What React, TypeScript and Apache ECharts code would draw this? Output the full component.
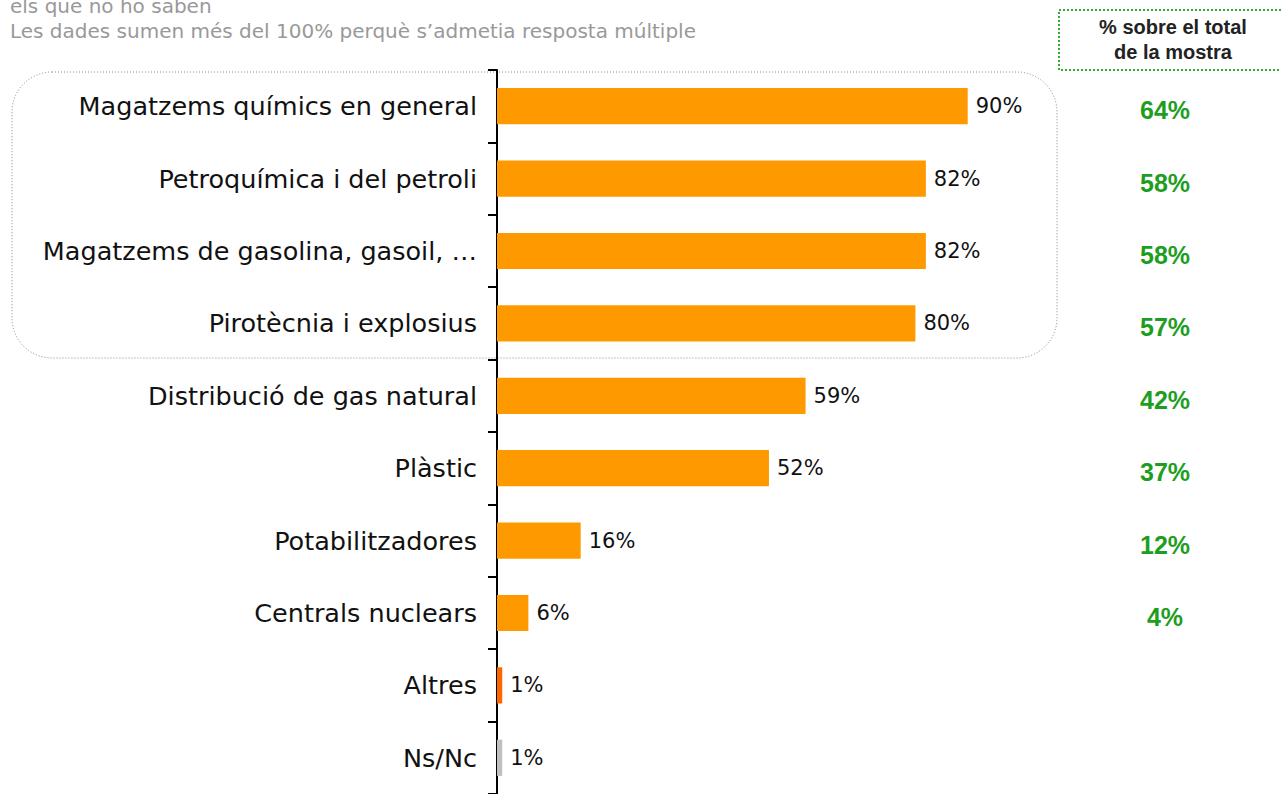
import React, { useEffect, useRef } from "react";
import * as echarts from "echarts";

const categories = [
  "Magatzems químics en general",
  "Petroquímica i del petroli",
  "Magatzems de gasolina, gasoil, …",
  "Pirotècnia i explosius",
  "Distribució de gas natural",
  "Plàstic",
  "Potabilitzadores",
  "Centrals nuclears",
  "Altres",
  "Ns/Nc",
];
const values = [90, 82, 82, 80, 59, 52, 16, 6, 1, 1];
const barColors = [
  "#FF9900", "#FF9900", "#FF9900", "#FF9900", "#FF9900",
  "#FF9900", "#FF9900", "#FF9900", "#FF6600", "#C0C0C0",
];
const totalLabels = ["64%", "58%", "58%", "57%", "42%", "37%", "12%", "4%", "", ""];
const noteLines = [
  "els que no ho saben",
  "Les dades sumen més del 100% perquè s’admetia resposta múltiple",
];
const headerLines = ["% sobre el total", "de la mostra"];

export default function App() {
  const ref = useRef<HTMLDivElement>(null);
  useEffect(() => {
    if (!ref.current) return;
    const chart = echarts.init(ref.current, undefined, { renderer: "svg" });
    const font = "'DejaVu Sans', sans-serif";
    const arial = "'Liberation Sans', Arial, sans-serif";
    chart.setOption({
      animation: false,
      backgroundColor: "#ffffff",
      grid: { left: 497, top: 70, right: 261, bottom: 0, containLabel: false },
      xAxis: {
        type: "value",
        min: 0,
        max: 100,
        show: false,
      },
      yAxis: [
        {
          type: "category",
          data: categories,
          inverse: true,
          axisLine: { show: true, lineStyle: { color: "#000", width: 2 } },
          axisTick: { show: true, length: 9, lineStyle: { color: "#000", width: 2 } },
          axisLabel: {
            margin: 20,
            fontFamily: font,
            fontSize: 25.5,
            color: "#111",
          },
          splitLine: { show: false },
        },
        {
          type: "category",
          data: totalLabels,
          inverse: true,
          position: "right",
          axisLine: { show: false },
          axisTick: { show: false },
          axisLabel: {
            margin: 145,
            align: "center",
            formatter: (v: string) => (v ? "{g|" + v + "}" : ""),
            rich: {
              g: {
                padding: [8, 0, 0, 0],
                fontFamily: arial,
                fontWeight: "bold",
                fontSize: 25,
                color: "#1E9E1E",
              },
            },
          },
        },
      ],
      series: [
        {
          type: "bar",
          yAxisIndex: 0,
          data: values.map((v, i) => ({ value: v, itemStyle: { color: barColors[i] } })),
          barCategoryGap: "50%",
          label: {
            show: true,
            position: "right",
            distance: 8,
            formatter: "{c}%",
            fontFamily: font,
            fontSize: 21,
            color: "#111",
          },
        },
      ],
      graphic: [
        {
          type: "rect",
          silent: true,
          shape: { x: 12, y: 72, width: 1045, height: 286, r: 40 },
          style: { fill: "none", stroke: "#888", lineWidth: 1, lineDash: [1, 2] },
          z: -1,
        },
        {
          type: "rect",
          silent: true,
          shape: { x: 1059, y: 10, width: 240, height: 60 },
          style: { fill: "none", stroke: "#33AA33", lineWidth: 2, lineDash: [2, 2] },
        },
        {
          type: "text",
          x: 1173,
          y: 27,
          style: {
            text: headerLines[0],
            fontFamily: arial,
            fontWeight: "bold",
            fontSize: 20,
            fill: "#222",
            align: "center",
            verticalAlign: "middle",
          },
        },
        {
          type: "text",
          x: 1173,
          y: 52,
          style: {
            text: headerLines[1],
            fontFamily: arial,
            fontWeight: "bold",
            fontSize: 20,
            fill: "#222",
            align: "center",
            verticalAlign: "middle",
          },
        },
        {
          type: "text",
          x: 10,
          y: 6,
          style: {
            text: noteLines[0],
            fontFamily: font,
            fontSize: 20,
            fill: "#999",
            align: "left",
            verticalAlign: "middle",
          },
        },
        {
          type: "text",
          x: 10,
          y: 31,
          style: {
            text: noteLines[1],
            fontFamily: font,
            fontSize: 20,
            fill: "#999",
            align: "left",
            verticalAlign: "middle",
          },
        },
      ],
    });
    return () => chart.dispose();
  }, []);
  return (
    <div
      ref={ref}
      style={{ position: "fixed", left: 0, top: 0, width: 1281, height: 794 }}
    />
  );
}
